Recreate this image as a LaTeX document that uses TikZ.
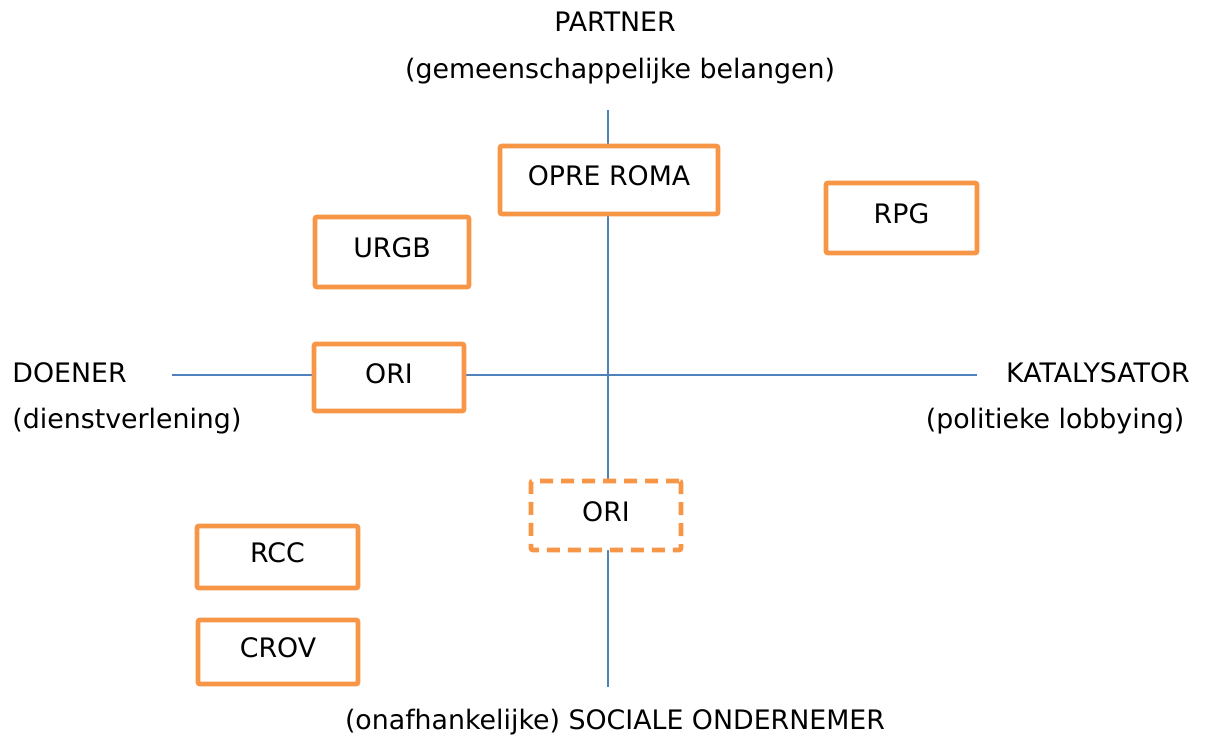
\documentclass[tikz,border=0pt]{standalone}
\usepackage{fontspec}
\setmainfont{DejaVu Sans}
\definecolor{boxorange}{HTML}{F79646}
\definecolor{axisblue}{HTML}{4F81BD}

\begin{document}
\begin{tikzpicture}[x=0.5pt,y=-0.5pt,
	axis/.style={draw=axisblue,line width=1pt}, % axis lines
	every node/.style={font=\fontsize{13.4}{16}\selectfont,inner sep=0pt},
	orgbox/.style={draw=boxorange,line width=2.4pt,fill=white,rounded corners=1pt,text depth=4pt},
	maybebox/.style={orgbox,dash pattern=on 6.5pt off 4pt}]
	\useasboundingbox (0,0) rectangle (1208,740);

	\coordinate (top) at (608,110);
	\coordinate (bot) at (608,687);
	\coordinate (lft) at (172,375);
	\coordinate (rgt) at (977,375);
	\draw[axis] (top)--(bot);
	\draw[axis] (lft)--(rgt);

	% boxes
	\node[orgbox,minimum width=109pt,minimum height=34pt] (opre) at (609,180) {OPRE ROMA};
	\node[orgbox,minimum width=75.5pt,minimum height=35pt] (rpg) at (901.5,218) {RPG};
	\node[orgbox,minimum width=77pt,minimum height=35pt] (urgb) at (392,252) {URGB};
	\node[orgbox,minimum width=75pt,minimum height=33.5pt] (ori) at (389,377.5) {ORI};
	\node[maybebox,minimum width=75pt,minimum height=34.5pt] (ori2) at (606,515.5) {ORI};
	\node[orgbox,minimum width=80.5pt,minimum height=31pt] (rcc) at (277.5,557) {RCC};
	\node[orgbox,minimum width=80pt,minimum height=32pt] (crov) at (278,652) {CROV};

	% axis labels
	\node (partner) at (615,22) {PARTNER};
	\node (partner2) at (620,71) {(gemeenschappelijke belangen)};
	\node[anchor=west] (doener) at (12,373) {DOENER};
	\node[anchor=west] (doener2) at (12,421) {(dienstverlening)};
	\node (kat) at (1098,373) {KATALYSATOR};
	\node (kat2) at (1055,421) {(politieke lobbying)};
	\node (soc) at (615,722) {(onafhankelijke) SOCIALE ONDERNEMER};

\end{tikzpicture}
\end{document}
